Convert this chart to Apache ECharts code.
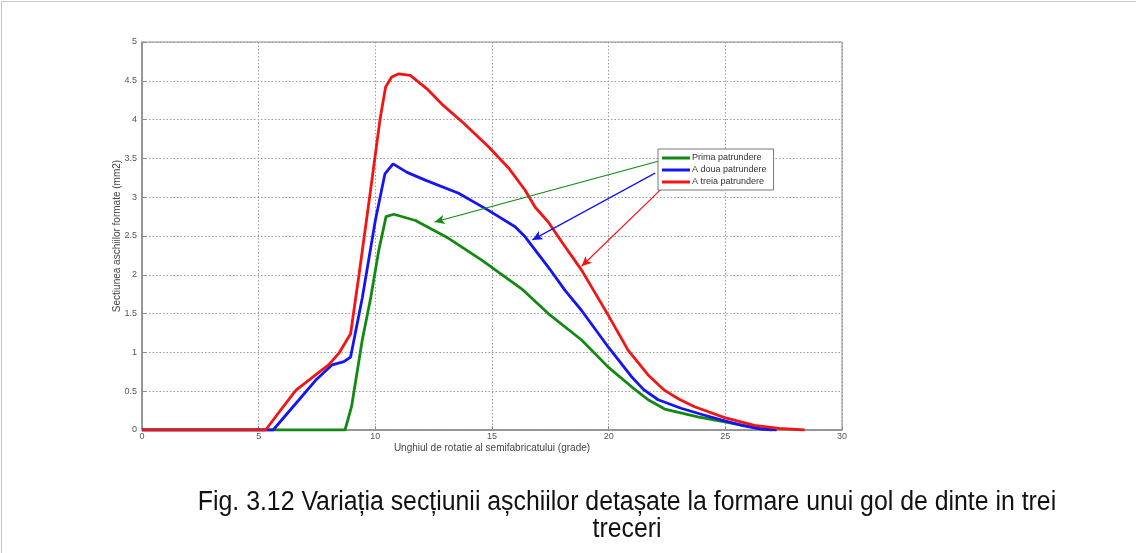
<!DOCTYPE html>
<html>
<head>
<meta charset="utf-8">
<script src="https://cdn.jsdelivr.net/npm/echarts@6/dist/echarts.min.js"></script>
<style>
html,body{margin:0;padding:0;background:#fff;}
#chart{width:1136px;height:553px;}
</style>
</head>
<body>
<div id="chart"></div>
<script>
// ---- data ----
const xTicks = [0, 5, 10, 15, 20, 25, 30];
const yTicks = [0, 0.5, 1, 1.5, 2, 2.5, 3, 3.5, 4, 4.5, 5];

const seriesNames = ['Prima patrundere', 'A doua patrundere', 'A treia patrundere'];

const greenX = [0, 8.7, 8.98, 9.44, 9.8, 10.15, 10.46, 10.79, 11.72, 13.14, 14.56, 16.27, 17.41, 18.84, 19.98, 20.97, 21.69, 22.4, 23.82, 25.25, 26.67, 27.0];
const greenY = [0, 0, 0.30, 1.16, 1.70, 2.32, 2.75, 2.78, 2.70, 2.47, 2.19, 1.82, 1.50, 1.16, 0.81, 0.56, 0.39, 0.27, 0.17, 0.09, 0.01, 0];

const blueX = [0, 5.62, 6.73, 7.44, 8.15, 8.65, 8.94, 9.44, 10.0, 10.41, 10.76, 11.36, 12.14, 13.57, 14.85, 15.99, 16.42, 17.41, 18.13, 18.84, 19.98, 20.97, 21.5, 22.12, 23.1, 24.0, 24.82, 25.7, 26.53, 27.2];
const blueY = [0, 0, 0.39, 0.64, 0.84, 0.88, 0.94, 1.70, 2.70, 3.30, 3.43, 3.32, 3.22, 3.05, 2.83, 2.62, 2.49, 2.10, 1.80, 1.54, 1.07, 0.69, 0.52, 0.39, 0.28, 0.20, 0.13, 0.06, 0.01, 0];

const redX = [0, 5.3, 6.0, 6.59, 7.44, 8.0, 8.44, 8.94, 9.3, 9.8, 10.2, 10.44, 10.7, 11.0, 11.5, 12.2, 12.85, 13.8, 14.85, 15.7, 16.42, 16.85, 17.41, 18.0, 18.84, 19.98, 20.83, 21.69, 22.4, 23.0, 23.68, 24.97, 26.25, 27.3, 28.4];
const redY = [0, 0, 0.28, 0.51, 0.71, 0.84, 0.99, 1.24, 2.0, 3.1, 4.0, 4.42, 4.55, 4.59, 4.57, 4.40, 4.20, 3.95, 3.65, 3.38, 3.09, 2.87, 2.68, 2.42, 2.06, 1.48, 1.03, 0.71, 0.51, 0.40, 0.30, 0.16, 0.06, 0.02, 0];

// annotation arrows (legend -> curve), in data coordinates
const greenArrow = [[22.2, 3.47], [12.54, 2.68]];
const blueArrow = [[21.99, 3.31], [16.73, 2.45]];
const redArrow = [[22.24, 3.10], [18.84, 2.11]];

const colors = ['#128a12', '#1414f4', '#f41414'];

const captionLine1 = 'Fig. 3.12 Variația secțiunii așchiilor detașate la formare unui gol de dinte in trei';
const captionLine2 = 'treceri';

const xLabel = 'Unghiul de rotatie al semifabricatului (grade)';
const yLabel = 'Sectiunea aschiilor formate (mm2)';

function zip(xs, ys) { return xs.map((x, i) => [x, ys[i]]); }

function makeSeries(name, xs, ys, color, arrow) {
  return {
    name: name,
    type: 'line',
    data: zip(xs, ys),
    showSymbol: false,
    symbol: 'none',
    smooth: false,
    lineStyle: { color: color, width: 2.8 },
    itemStyle: { color: color },
    markLine: {
      silent: true,
      animation: false,
      symbol: ['none', 'arrow'],
      symbolSize: [7, 10],
      label: { show: false },
      lineStyle: { color: color, width: 1.2, type: 'solid' },
      data: [[{ coord: arrow[0] }, { coord: arrow[1] }]]
    }
  };
}

const chart = echarts.init(document.getElementById('chart'), null, { renderer: 'canvas' });

const FONT = 'Liberation Sans, Arial, sans-serif';
const axisLabelStyle = { color: '#555', fontSize: 9, fontFamily: FONT };
const gridLine = { show: true, lineStyle: { color: '#9a9a9a', width: 1, type: [1.5, 2] } };

chart.setOption({
  animation: false,
  backgroundColor: '#fff',
  grid: {
    left: 142, right: 294, top: 42, bottom: 123,
    show: true, borderColor: '#8a8a8a', borderWidth: 1, backgroundColor: 'transparent'
  },
  legend: {
    data: seriesNames,
    orient: 'vertical',
    left: 658, top: 149,
    icon: 'rect',
    itemWidth: 28, itemHeight: 3,
    itemGap: 2,
    padding: [4, 7, 3, 4],
    backgroundColor: '#fff',
    borderColor: '#777',
    borderWidth: 1,
    textStyle: { color: '#333', fontSize: 9, lineHeight: 10, fontFamily: FONT, padding: [0, 0, 0, -3] },
    z: 10
  },
  xAxis: {
    type: 'value',
    min: 0, max: 30, interval: 5,
    name: xLabel,
    nameLocation: 'middle',
    nameGap: 13,
    nameMoveOverlap: false,
    nameTextStyle: { color: '#444', fontSize: 10, fontFamily: FONT },
    axisLine: { show: true, onZero: false, lineStyle: { color: '#8a8a8a', width: 1.5 } },
    axisTick: { show: true, inside: true, length: 4, lineStyle: { color: '#8a8a8a' } },
    axisLabel: Object.assign({ margin: 2, formatter: v => (xTicks.indexOf(v) >= 0 ? String(v) : '') }, axisLabelStyle),
    splitLine: gridLine
  },
  yAxis: {
    type: 'value',
    min: 0, max: 5, interval: 0.5,
    name: yLabel,
    nameLocation: 'middle',
    nameRotate: 90,
    nameGap: 20,
    nameMoveOverlap: false,
    nameTextStyle: { color: '#444', fontSize: 10, fontFamily: FONT },
    axisLine: { show: true, onZero: false, lineStyle: { color: '#8a8a8a', width: 1.5 } },
    axisTick: { show: true, inside: true, length: 4, lineStyle: { color: '#8a8a8a' } },
    axisLabel: Object.assign({ margin: 5, formatter: v => (yTicks.indexOf(v) >= 0 ? String(v) : '') }, axisLabelStyle),
    splitLine: gridLine
  },
  series: [
    makeSeries(seriesNames[0], greenX, greenY, colors[0], greenArrow),
    makeSeries(seriesNames[1], blueX, blueY, colors[1], blueArrow),
    makeSeries(seriesNames[2], redX, redY, colors[2], redArrow)
  ],
  graphic: [
    {
      type: 'rect', silent: true, z: -1,
      shape: { x: 1.5, y: 1.5, width: 1400, height: 800 },
      style: { fill: 'none', stroke: '#8a8a8a', lineWidth: 1, lineDash: [1, 1] }
    },
    {
      type: 'text', silent: true,
      x: 627, y: 503, scaleX: 0.92,
      style: {
        text: captionLine1, fill: '#111',
        font: '27px "Liberation Sans", Arial, sans-serif',
        textAlign: 'center', textVerticalAlign: 'middle'
      }
    },
    {
      type: 'text', silent: true,
      x: 627, y: 530, scaleX: 0.92,
      style: {
        text: captionLine2, fill: '#111',
        font: '27px "Liberation Sans", Arial, sans-serif',
        textAlign: 'center', textVerticalAlign: 'middle'
      }
    }
  ]
});
</script>
</body>
</html>
